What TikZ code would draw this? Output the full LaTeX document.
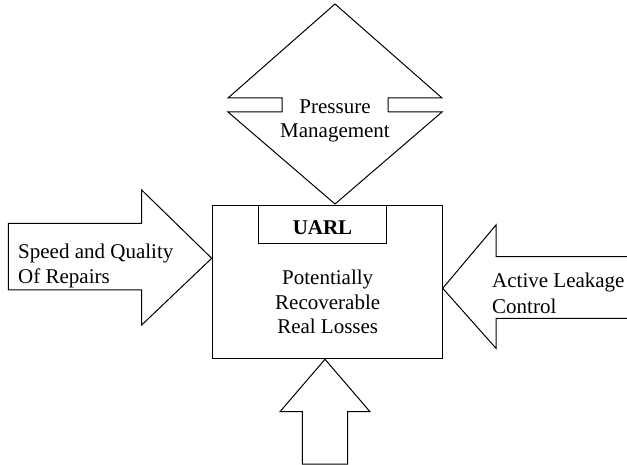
\documentclass[tikz,border=0pt]{standalone}
\usepackage{fontspec}
\setmainfont{Liberation Serif}
\begin{document}
\begin{tikzpicture}[x=1pt,y=-1pt,
  outline/.style={draw=black, line width=1pt, line join=miter},
  lbl/.style={font=\fontsize{21}{24.5}\selectfont, inner sep=0pt, align=center},
  lbll/.style={font=\fontsize{21}{24.5}\selectfont, inner sep=0pt, align=left}]
\useasboundingbox (0,0) rectangle (627,465);

% pressure management: split diamond with side slots
\draw[outline] (335,4) -- (228,98) -- (282,98) -- (282,112) -- (228,112)
  -- (335,204) -- (442,112) -- (388,112) -- (388,98) -- (442,98) -- cycle;
\node[lbl] (pm) at (335,121) {Pressure\\Management};

% central box with header
\draw[outline] (212.7,205.7) rectangle (442.3,358.3);
\draw[outline] (258.3,205.7) rectangle (386.7,244);
\node[lbl, font=\fontsize{21}{24.5}\selectfont\bfseries] (uarl) at (322.5,228) {UARL};
\node[lbl] (prl) at (327.7,302) {Potentially\\Recoverable\\Real Losses};

% left block arrow
\draw[outline] (8.3,223.3) -- (141.7,223.3) -- (141.7,190) -- (211.7,258.3)
  -- (141.7,325) -- (141.7,290) -- (8.3,290) -- cycle;
\node[lbll, anchor=west] (sq) at (18,266) {Speed and Quality\\Of Repairs};

% right block arrow (shaft runs off the edge)
\draw[outline] (630,256.7) -- (496,256.7) -- (496,225) -- (442.7,288.3)
  -- (496,348.3) -- (496,318.3) -- (630,318.3);
\node[lbll, anchor=west, font=\fontsize{21}{26}\selectfont] (alc) at (492,293) {Active Leakage\\Control};

% bottom block arrow
\draw[outline] (325,359.3) -- (370,411.7) -- (347.7,411.7) -- (347.7,464)
  -- (302.3,464) -- (302.3,411.7) -- (280,411.7) -- cycle;
\end{tikzpicture}
\end{document}
